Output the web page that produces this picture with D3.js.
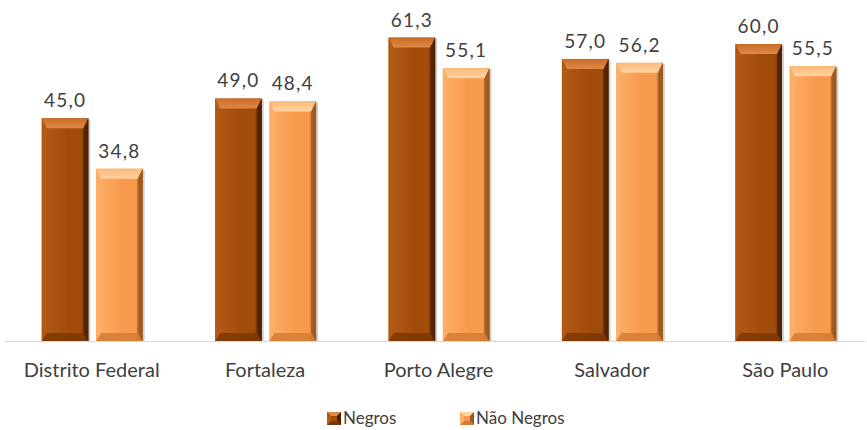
<!DOCTYPE html>
<html>
<head>
<meta charset="utf-8">
<script src="https://cdn.jsdelivr.net/npm/d3@7"></script>
<style>
    body { margin: 0; background: #ffffff; }
    svg { display: block; font-family: Lato, "Open Sans", sans-serif; }
</style>
</head>
<body>
<div id="chart"></div>
<script>
// Chart data
var cities = ['Distrito Federal', 'Fortaleza', 'Porto Alegre', 'Salvador', 'São Paulo'];
var seriesNames = ['Negros', 'Não Negros'];
var negros = [45.0, 49.0, 61.3, 57.0, 60.0];
var naoNegros = [34.8, 48.4, 55.1, 56.2, 55.5];

var width = 867, height = 430;
var baseY = 341;

var svg = d3.select('#chart').append('svg')
    .attr('width', width)
    .attr('height', height);

// colour sets for the bevel effect
var palettes = [
    {base: '#a24c0c', left: '#b45a17', right: '#4d2000', top: '#c96c27', topHi: '#e08a45', bottom: '#7b3705'},
    {base: '#f89a4e', left: '#fcae68', right: '#9a561c', top: '#fdb978', topHi: '#ffd3a2', bottom: '#d47c34'}
];

var defs = svg.append('defs');
palettes.forEach(function(p, i){
    var g = defs.append('linearGradient').attr('id', 'body' + i)
        .attr('x1', 0).attr('x2', 1).attr('y1', 0).attr('y2', 0);
    g.append('stop').attr('offset', '0%').attr('stop-color', p.left);
    g.append('stop').attr('offset', '55%').attr('stop-color', p.base);
    g.append('stop').attr('offset', '85%').attr('stop-color', p.base);
    g.append('stop').attr('offset', '100%').attr('stop-color', p.right);

    var t = defs.append('linearGradient').attr('id', 'top' + i)
        .attr('x1', 0).attr('x2', 0).attr('y1', 0).attr('y2', 1);
    t.append('stop').attr('offset', '0%').attr('stop-color', p.top);
    t.append('stop').attr('offset', '100%').attr('stop-color', p.topHi);
});

var x0 = d3.scaleBand().domain(cities).range([5, 872]).padding(0);
var x1 = d3.scaleBand().domain(seriesNames).range([0, 101]).paddingInner(0.14);
var y = d3.scaleLinear().domain([0, 68.9]).range([baseY, 0]);

var rows = [];
cities.forEach(function(c, i){
    rows.push({city: c, s: 0, v: negros[i]});
    rows.push({city: c, s: 1, v: naoNegros[i]});
});

var bt = 10, bs = 5;
var bars = svg.append('g').selectAll('g.bar').data(rows).enter().append('g')
    .attr('class', 'bar')
    .attr('transform', function(d){
        var bx = x0(d.city) + x0.bandwidth() / 2 - 50 + x1(seriesNames[d.s]);
        return 'translate(' + bx + ',' + y(d.v) + ')';
    });

bars.each(function(d){
    var g = d3.select(this);
    var w = x1.bandwidth(), h = baseY - y(d.v);
    var p = palettes[d.s];
    // soft shadow
    g.append('rect').attr('x', 2).attr('y', 1).attr('width', w).attr('height', h - 1)
        .attr('fill', '#000').attr('opacity', 0.18);
    g.append('rect').attr('width', w).attr('height', h).attr('fill', 'url(#body' + d.s + ')');
    g.append('polygon')
        .attr('points', [[0,0],[w,0],[w-bs,bt],[bs,bt]].join(' '))
        .attr('fill', 'url(#top' + d.s + ')');
    g.append('polygon')
        .attr('points', [[0,h],[w,h],[w-bs,h-bt+2],[bs,h-bt+2]].join(' '))
        .attr('fill', p.bottom).attr('opacity', 0.85);
    g.append('polygon')
        .attr('points', [[w,0],[w,h],[w-bs,h-bt+2],[w-bs,bt]].join(' '))
        .attr('fill', p.right).attr('opacity', 0.8);
    g.append('polygon')
        .attr('points', [[0,0],[0,h],[bs,h-bt+2],[bs,bt]].join(' '))
        .attr('fill', p.left).attr('opacity', 0.7);

    g.append('text')
        .attr('x', w / 2)
        .attr('y', -11)
        .attr('text-anchor', 'middle')
        .attr('fill', '#404040')
        .style('font-size', '19px')
        .style('letter-spacing', '1.2px')
        .text(d3.format('.1f')(d.v).replace('.', ','));
});

// baseline
svg.append('line')
    .attr('x1', 5).attr('x2', 866)
    .attr('y1', baseY + 0.5).attr('y2', baseY + 0.5)
    .attr('stroke', '#d9d9d9').attr('stroke-width', 1);

// category axis
var xAxis = d3.axisBottom(x0).tickSize(0).tickPadding(0);
var ax = svg.append('g').attr('transform', 'translate(0,' + baseY + ')').call(xAxis);
ax.select('.domain').remove();
ax.selectAll('text')
    .attr('y', 36)
    .attr('dy', 0)
    .attr('fill', '#404040')
    .style('font-family', 'Lato, "Open Sans", sans-serif')
    .style('font-size', '20px');

// legend
var legendX = [327, 460];
var legend = svg.append('g').selectAll('g').data(seriesNames).enter().append('g')
    .attr('transform', function(d, i){ return 'translate(' + legendX[i] + ',412)'; });
legend.each(function(d, i){
    var g = d3.select(this);
    var p = palettes[i];
    g.append('rect').attr('width', 14).attr('height', 13).attr('fill', p.base);
    g.append('polygon').attr('points', '0,0 14,0 10,4 4,4').attr('fill', p.topHi);
    g.append('polygon').attr('points', '14,0 14,13 10,9 10,4').attr('fill', p.right);
    g.append('polygon').attr('points', '0,13 14,13 10,9 4,9').attr('fill', p.bottom);
    g.append('polygon').attr('points', '0,0 0,13 4,9 4,4').attr('fill', p.left);
    g.append('text')
        .attr('x', 16).attr('y', 12)
        .attr('fill', '#404040')
        .style('font-size', '17px')
        .text(d);
});
</script>
</body>
</html>
